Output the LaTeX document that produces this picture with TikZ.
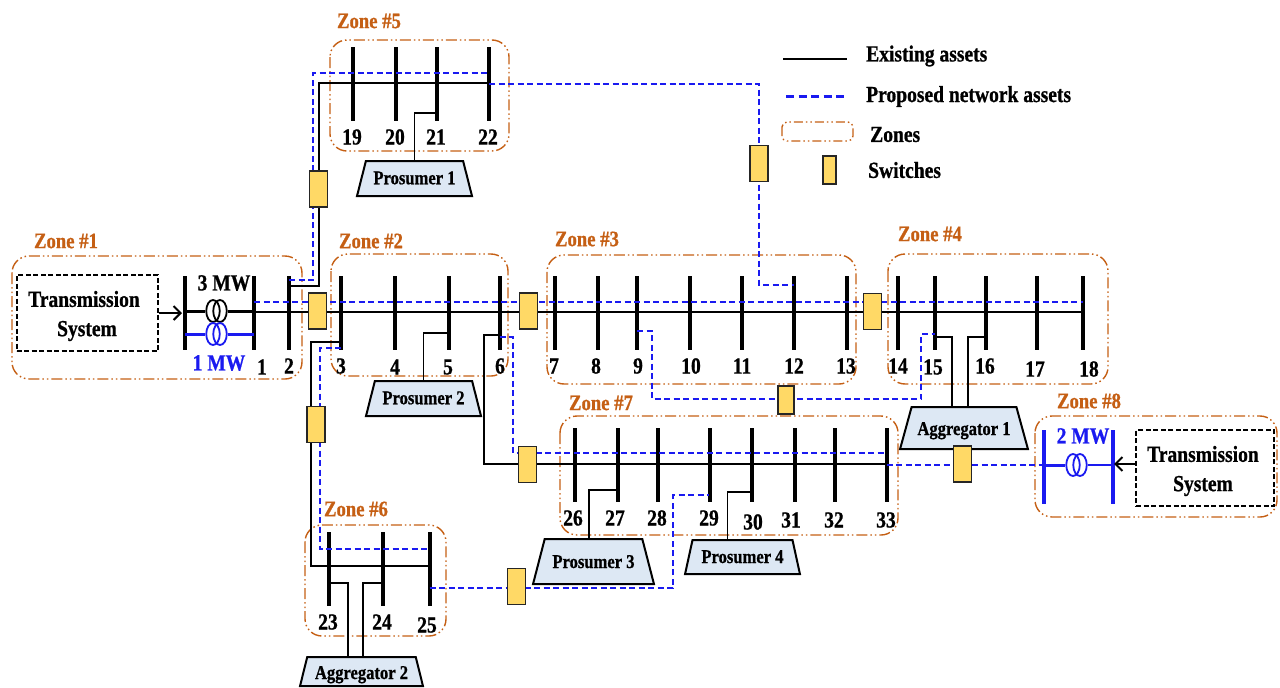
\documentclass[tikz,border=0pt]{standalone}
\usepackage{fontspec}
\setmainfont[FakeStretch=0.85,BoldFeatures={FakeBold=0.8}]{Liberation Serif}
\usetikzlibrary{shapes.geometric,arrows.meta}
\definecolor{zonec}{HTML}{C55F14}
\definecolor{netblue}{HTML}{1A1AF0}
\definecolor{swfill}{HTML}{FFD966}
\definecolor{prfill}{HTML}{DDE8F4}
\tikzset{
  zonebox/.style={draw=zonec,line width=1.4pt,rounded corners=17pt,dash pattern=on 11pt off 3pt on 1.5pt off 3pt on 1.5pt off 3pt},
  zonelabel/.style={text=zonec,font=\fontsize{22}{24}\selectfont\bfseries,inner sep=0pt},
  busbar/.style={draw=black,fill=black,rectangle,minimum width=3.2pt,inner sep=0pt,minimum height=73pt},
  newbus/.style={draw=netblue,fill=netblue,rectangle,minimum width=3.2pt,inner sep=0pt,minimum height=73pt},
  exist/.style={draw=black,line width=1.3pt},
  propo/.style={draw=netblue,line width=1.6pt,dash pattern=on 6pt off 3.5pt},
  switchbox/.style={draw=black!85,fill=swfill,line width=1.6pt,minimum width=18pt,minimum height=36pt,inner sep=0pt},
  numlabel/.style={font=\fontsize{23}{25}\selectfont\bfseries,inner sep=0pt},
  prolabel/.style={draw=black,fill=prfill,line width=2pt,trapezium,trapezium stretches=true,inner sep=0pt,font=\fontsize{19.5}{21}\selectfont\bfseries,text depth=4pt},
  tsbox/.style={draw=black,line width=2pt,dash pattern=on 5pt off 2.5pt,rectangle,inner sep=0pt},
  tstext/.style={font=\fontsize{23}{25}\selectfont\bfseries,inner sep=0pt},
  legendtext/.style={anchor=west,font=\fontsize{23}{25}\selectfont\bfseries,inner sep=0pt},
  xfmr/.style={ellipse,draw,line width=1.8pt,minimum width=13.5pt,minimum height=22pt,inner sep=0pt},
  inarrow/.style={black,line width=2pt,-{Straight Barb[length=7pt,width=14pt]}},
}
\begin{document}
\begin{tikzpicture}[x=1pt,y=-1pt]
\useasboundingbox (0,0) rectangle (1280,688);
% zones
\draw[zonebox] (12,256) rectangle (302,379);
\draw[zonebox] (331,254) rectangle (508,376);
\draw[zonebox] (547,255) rectangle (856,384);
\draw[zonebox] (888,254) rectangle (1108,384);
\draw[zonebox] (330,40) rectangle (509,151);
\draw[zonebox] (305,525) rectangle (446,636);
\draw[zonebox] (560,416) rectangle (898,535);
\draw[zonebox] (1035,416) rectangle (1277,517);
% zone labels
\node[zonelabel] (z1) at (66,241) {Zone \#1};
\node[zonelabel] (z2) at (371,241) {Zone \#2};
\node[zonelabel] (z3) at (587,239) {Zone \#3};
\node[zonelabel] (z4) at (930,234) {Zone \#4};
\node[zonelabel] (z5) at (369,21) {Zone \#5};
\node[zonelabel] (z6) at (356,509) {Zone \#6};
\node[zonelabel] (z7) at (601,403) {Zone \#7};
\node[zonelabel] (z8) at (1089,401) {Zone \#8};
% buses
\foreach \n/\x in {0/185,1/254,2/289,3/341,4/394.5,5/448.5,6/499.5,7/554.5,8/598,9/637,10/689.5,11/741.5,12/794,13/846.5,14/898,15/934.5,16/985.7,17/1037,18/1083}
  \node[busbar] (b\n) at (\x,313) {};
\foreach \n/\x in {19/353,20/396,21/437,22/489}
  \node[busbar] (b\n) at (\x,83.5) {};
\foreach \n/\x in {23/329,24/382.6,25/429.5}
  \node[busbar] (b\n) at (\x,568.5) {};
\foreach \n/\x in {26/574.4,27/617.5,28/657.8,29/709.4,30/751.4,31/794.5,32/834.3,33/886.7}
  \node[busbar] (b\n) at (\x,464.5) {};
\node[newbus] (bn1) at (1044,466.5) {};
\node[newbus] (bn2) at (1113,466.5) {};
% existing lines
\draw[exist] (b1.center|-0,312) -- (b18.center|-0,312);
\draw[exist] (b2.center|-0,286) -- (319,286) -- (319,83) -- (b22.center|-0,83);
\draw[exist] (b3.center|-0,342) -- (311,342) -- (311,566) -- (b25.center|-0,566);
\draw[exist] (b6.center|-0,335) -- (484,335) -- (484,464) -- (b33.center|-0,464);
% proposed lines
\draw[propo] (b1.center|-0,302) -- (b18.center|-0,302);
\draw[propo] (b2.center|-0,280) -- (313,280) -- (313,73) -- (b22.center|-0,73);
\draw[propo] (b22.center|-0,84) -- (759,84) -- (759,285) -- (b12.center|-0,285);
\draw[propo] (b3.center|-0,348) -- (320,348) -- (320,549) -- (b25.center|-0,549);
\draw[propo] (b6.center|-0,337) -- (513,337) -- (513,453) -- (b33.center|-0,453);
\draw[propo] (b9.center|-0,331) -- (652,331) -- (652,399) -- (921,399) -- (921,334) -- (b15.center|-0,334);
\draw[propo] (b25.center|-0,588) -- (673,588) -- (673,495) -- (b29.center|-0,495);
\draw[propo] (b33.center|-0,465) -- (bn1.center|-0,465);
% consumers
\node[prolabel,text height=15.5pt,minimum width=115pt,minimum height=35pt,trapezium left angle=69,trapezium right angle=69] (pr1) at (414.5,178.5) {Prosumer 1};
\node[prolabel,text height=15.5pt,minimum width=115pt,minimum height=35pt,trapezium left angle=69,trapezium right angle=69] (pr2) at (423.5,398.5) {Prosumer 2};
\node[prolabel,text height=17pt,minimum width=121pt,minimum height=45pt,trapezium left angle=65,trapezium right angle=65] (pr3) at (593.5,561.5) {Prosumer 3};
\node[prolabel,text height=16pt,minimum width=115pt,minimum height=34pt,trapezium left angle=73,trapezium right angle=73] (pr4) at (742.5,557) {Prosumer 4};
\node[prolabel,text height=18pt,minimum width=128pt,minimum height=42pt,trapezium left angle=65,trapezium right angle=65] (ag1) at (964,428) {Aggregator 1};
\node[prolabel,text height=19pt,minimum width=123pt,minimum height=29pt,trapezium left angle=75,trapezium right angle=75] (ag2) at (361.5,671.5) {Aggregator 2};
\draw[exist] (b21.center|-0,113) -| (pr1.north);
\draw[exist] (b5.center|-0,333) -| (pr2.north);
\draw[exist] (b27.center|-0,490) -- (589,490) -- (589,0|-pr3.north);
\draw[exist] (b30.center|-0,492) -- (727.6,492) -- (727.6,0|-pr4.north);
\draw[exist] (b15.center|-0,337) -- (952,337) -- (952,0|-ag1.north);
\draw[exist] (b16.center|-0,337) -- (968,337) -- (968,0|-ag1.north);
\draw[exist] (b23.center|-0,583) -- (348,583) -- (348,0|-ag2.north);
\draw[exist] (b24.center|-0,583) -- (363,583) -- (363,0|-ag2.north);
% switches
\node[switchbox] (s1) at (317.5,311) {};
\node[switchbox] (s2) at (528.5,311) {};
\node[switchbox] (s3) at (872.5,311.5) {};
\node[switchbox] (s4) at (318.5,189) {};
\node[switchbox] (s5) at (316,424.5) {};
\node[switchbox] (s6) at (527.5,464.5) {};
\node[switchbox] (s7) at (516.5,586.5) {};
\node[switchbox] (s8) at (962.5,464) {};
\node[switchbox] (s9) at (759,163.5) {};
\node[switchbox,minimum width=16pt,minimum height=28pt] (s10) at (786,400) {};
% transmission system 1
\node[tsbox,minimum width=141.5pt,minimum height=76pt] (ts1) at (87.3,313) {};
\node[tstext] (ts1a) at (84,299) {Transmission};
\node[tstext] (ts1b) at (87,331) {System};
\draw[inarrow,shorten >=3pt] (ts1.east|-0,313) -- (b0.center|-0,313);
% transformers, zone 1
\node[xfmr,draw=black] (t1a) at (213,311) {};
\node[xfmr,draw=black] (t1b) at (220,311) {};
\draw[black,line width=3pt] (b0.center|-0,311) -- (t1a.west);
\draw[black,line width=3pt] (t1b.east) -- (b1.center|-0,311);
\node[xfmr,draw=netblue] (t2a) at (213,334) {};
\node[xfmr,draw=netblue] (t2b) at (220,334) {};
\draw[netblue,line width=3pt] (b0.center|-0,334) -- (t2a.west);
\draw[netblue,line width=3pt] (t2b.east) -- (b1.center|-0,334);
\node[tstext] (mw3) at (224,283) {3 MW};
\node[tstext,text=netblue] (mw1) at (219,363) {1 MW};
% zone 8
\node[tsbox,minimum width=138pt,minimum height=76pt] (ts2) at (1205,468) {};
\node[tstext] (ts2a) at (1203,454) {Transmission};
\node[tstext] (ts2b) at (1203,486) {System};
\draw[inarrow,shorten >=1pt] (ts2.west|-0,464) -- (bn2.center|-0,464);
\node[xfmr,draw=netblue] (t3a) at (1073,465) {};
\node[xfmr,draw=netblue] (t3b) at (1080,465) {};
\draw[netblue,line width=3pt] (bn1.center|-0,465) -- (t3a.west);
\draw[netblue,line width=2.5pt] (t3b.east) -- (bn2.center|-0,465);
\node[tstext,text=netblue] (mw2) at (1083,436) {2 MW};
% bus numbers
\foreach \t/\x/\y in {1/262/367,2/289/366,3/341/366,4/395/367,5/448/367,6/500/366,7/554/366,8/596/366,9/638/366,10/691/366,11/742/366,12/794/366,13/846/366,14/898/366,15/933/367,16/985/366,17/1035/369,18/1089/369,19/352/137,20/395/137,21/436/137,22/488/137,23/328/622,24/382/622,25/427/625,26/573/518,27/615/518,28/657/518,29/709/518,30/753/522,31/791/520,32/834/520,33/886/520}
  \node[numlabel] (n\t) at (\x,\y) {\t};
% legend
\coordinate (l1a) at (783,59); \coordinate (l1b) at (847,59);
\coordinate (l2a) at (786,96.5); \coordinate (l2b) at (847,96.5);
\draw[black,line width=2.2pt] (l1a) -- (l1b);
\draw[netblue,line width=2.4pt,dash pattern=on 8pt off 4.5pt] (l2a) -- (l2b);
\draw[draw=zonec,line width=1.4pt,rounded corners=5pt,dash pattern=on 9pt off 3pt on 1.5pt off 3pt on 1.5pt off 3pt] (782,122) rectangle (853,141);
\node[switchbox,minimum width=13pt,minimum height=28pt] (ls) at (829.5,170) {};
\node[legendtext] (lt1) at (866,56) {Existing assets};
\node[legendtext] (lt2) at (866,96.5) {Proposed network assets};
\node[legendtext] (lt3) at (870,134.5) {Zones};
\node[legendtext] (lt4) at (868,170) {Switches};
\end{tikzpicture}
\end{document}
